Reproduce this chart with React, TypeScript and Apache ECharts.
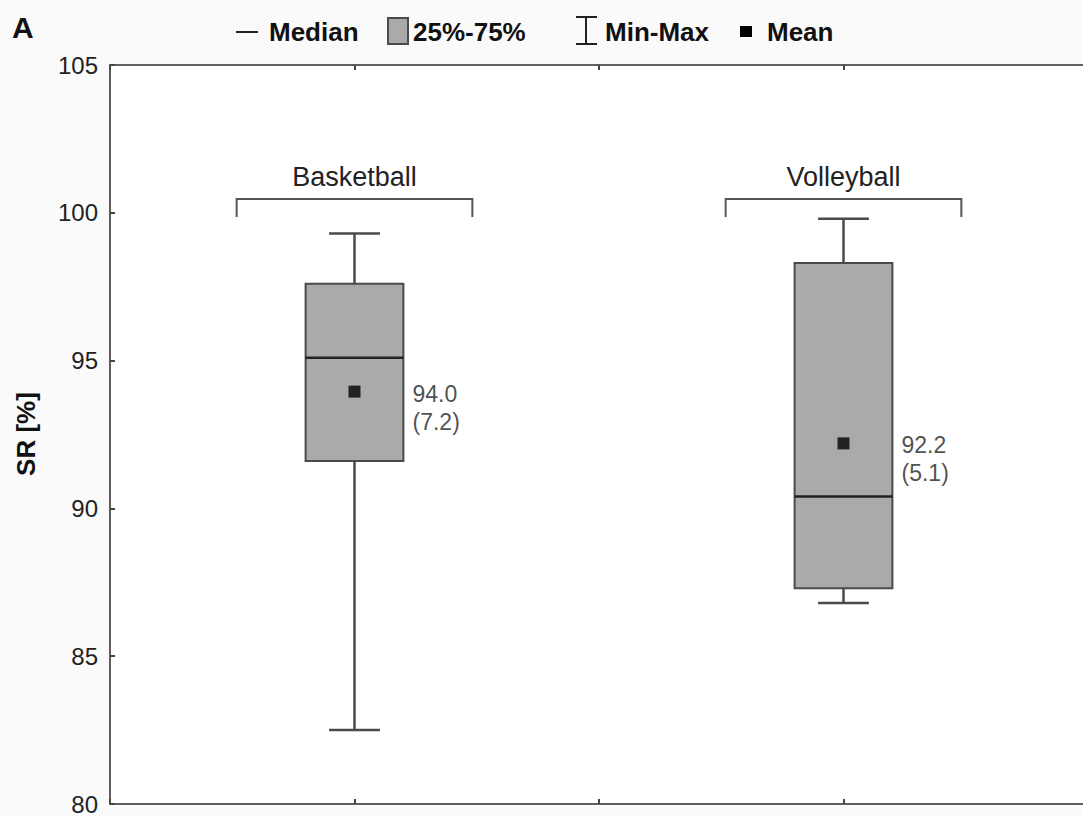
import React, { useEffect, useRef } from "react";
import * as echarts from "echarts";

const categories = ["Basketball", "Volleyball"];
const minValues = [82.5, 86.8];
const q1Values = [91.6, 87.3];
const medianValues = [95.1, 90.4];
const q3Values = [97.6, 98.3];
const maxValues = [99.3, 99.8];
const meanValues = [94.0, 92.2];
const sdValues = [7.2, 5.1];
const meanPlotValues = [93.95, 92.2];

const Y_MIN = 80;
const Y_MAX = 105;
const Y_INTERVAL = 5;

const FONT = "'Liberation Sans', Arial, Helvetica, sans-serif";
const LINE = "#4a4a4a";

export default function App() {
  const ref = useRef<HTMLDivElement>(null);

  useEffect(() => {
    if (!ref.current) return;
    const chart = echarts.init(ref.current, undefined, { renderer: "svg" });

    const boxData = categories.map((_, i) => [
      i,
      minValues[i],
      q1Values[i],
      medianValues[i],
      q3Values[i],
      maxValues[i],
    ]);

    const bracketData = categories.map((c, i) => ({ value: [i, 100], name: c }));

    const axisX = (position: "bottom" | "top") => ({
      type: "value",
      position,
      min: -0.5,
      max: 1.5,
      interval: 0.5,
      axisLine: { show: true, onZero: false, lineStyle: { color: "#606060", width: 2 } },
      axisTick: { show: true, inside: true, length: 5, lineStyle: { color: "#444", width: 2 } },
      axisLabel: { show: false },
      splitLine: { show: false },
    });

    const axisY = (position: "left" | "right", labels: boolean) => ({
      type: "value",
      position,
      min: Y_MIN,
      max: Y_MAX,
      interval: Y_INTERVAL,
      axisLine: { show: true, onZero: false, lineStyle: { color: "#606060", width: 2 } },
      axisTick: { show: true, inside: true, length: 5, lineStyle: { color: "#444", width: 2 } },
      axisLabel: {
        show: labels,
        fontFamily: FONT,
        fontSize: 24,
        color: "#222",
        margin: 12,
      },
      splitLine: { show: false },
    });

    const textStyle = (text: string, bold: boolean, size: number, align = "left") => ({
      text,
      fontFamily: FONT,
      fontSize: size,
      fontWeight: bold ? "bold" : "normal",
      fill: "#111",
      align,
      verticalAlign: "middle",
    });

    chart.setOption({
      animation: false,
      backgroundColor: "#fafafa",
      grid: {
        left: 110,
        top: 65,
        width: 978,
        height: 739,
        show: true,
        backgroundColor: "#ffffff",
        borderWidth: 0,
      },
      xAxis: [axisX("bottom"), axisX("top")],
      yAxis: [axisY("left", true), axisY("right", false)],
      graphic: [
        { type: "text", x: 12, y: 27, style: textStyle("A", true, 30) },
        {
          type: "text",
          x: 26,
          y: 434,
          rotation: Math.PI / 2,
          style: textStyle("SR [%]", true, 26, "center"),
        },
        // legend: median
        { type: "line", shape: { x1: 236, y1: 32, x2: 258, y2: 32 }, style: { stroke: "#222", lineWidth: 2 } },
        { type: "text", x: 269, y: 32, style: textStyle("Median", true, 26) },
        // legend: box
        {
          type: "rect",
          shape: { x: 388, y: 18, width: 20, height: 26 },
          style: { fill: "#aaaaaa", stroke: LINE, lineWidth: 2 },
        },
        { type: "text", x: 413, y: 32, style: textStyle("25%-75%", true, 26) },
        // legend: min-max
        { type: "line", shape: { x1: 586, y1: 17, x2: 586, y2: 44 }, style: { stroke: "#222", lineWidth: 2 } },
        { type: "line", shape: { x1: 576, y1: 17, x2: 597, y2: 17 }, style: { stroke: "#222", lineWidth: 2 } },
        { type: "line", shape: { x1: 576, y1: 44, x2: 597, y2: 44 }, style: { stroke: "#222", lineWidth: 2 } },
        { type: "text", x: 605, y: 32, style: textStyle("Min-Max", true, 26) },
        // legend: mean
        { type: "rect", shape: { x: 740, y: 26, width: 12, height: 11 }, style: { fill: "#000" } },
        { type: "text", x: 767, y: 32, style: textStyle("Mean", true, 26) },
      ],
      series: [
        {
          type: "custom",
          name: "Brackets",
          xAxisIndex: 0,
          yAxisIndex: 0,
          data: bracketData,
          encode: { x: 0, y: 1 },
          silent: true,
          renderItem: (params: any, api: any) => {
            const x = api.value(0);
            const unit = api.size([1, 0])[0];
            const half = unit * 0.241;
            const [cx, yTop] = api.coord([x, 100.47]);
            const yLeg = api.coord([x, 99.86])[1];
            const yText = api.coord([x, 101.2])[1];
            return {
              type: "group",
              children: [
                {
                  type: "polyline",
                  shape: {
                    points: [
                      [cx - half, yLeg],
                      [cx - half, yTop],
                      [cx + half, yTop],
                      [cx + half, yLeg],
                    ],
                  },
                  style: { stroke: "#555", lineWidth: 2, fill: "none" },
                },
                {
                  type: "text",
                  x: cx,
                  y: yText,
                  style: {
                    text: categories[params.dataIndex],
                    fontFamily: FONT,
                    fontSize: 27,
                    fill: "#222",
                    align: "center",
                    verticalAlign: "middle",
                  },
                },
              ],
            };
          },
        },
        {
          type: "custom",
          name: "Box",
          xAxisIndex: 0,
          yAxisIndex: 0,
          data: boxData,
          encode: { x: 0, y: [1, 2, 3, 4, 5] },
          renderItem: (params: any, api: any) => {
            const x = api.value(0);
            const unit = api.size([1, 0])[0];
            const boxHalf = unit * 0.1;
            const capHalf = unit * 0.052;
            const [cx, yMin] = api.coord([x, api.value(1)]);
            const yQ1 = api.coord([x, api.value(2)])[1];
            const yMed = api.coord([x, api.value(3)])[1];
            const yQ3 = api.coord([x, api.value(4)])[1];
            const yMax = api.coord([x, api.value(5)])[1];
            const ls = { stroke: LINE, lineWidth: 2.5 };
            return {
              type: "group",
              children: [
                { type: "line", shape: { x1: cx, y1: yMax, x2: cx, y2: yQ3 }, style: ls },
                { type: "line", shape: { x1: cx, y1: yQ1, x2: cx, y2: yMin }, style: ls },
                { type: "line", shape: { x1: cx - capHalf, y1: yMax, x2: cx + capHalf, y2: yMax }, style: ls },
                { type: "line", shape: { x1: cx - capHalf, y1: yMin, x2: cx + capHalf, y2: yMin }, style: ls },
                {
                  type: "rect",
                  shape: { x: cx - boxHalf, y: yQ3, width: boxHalf * 2, height: yQ1 - yQ3 },
                  style: { fill: "#aaaaaa", stroke: LINE, lineWidth: 2 },
                },
                {
                  type: "line",
                  shape: { x1: cx - boxHalf, y1: yMed, x2: cx + boxHalf, y2: yMed },
                  style: { stroke: "#222", lineWidth: 2.5 },
                },
              ],
            };
          },
        },
        {
          type: "scatter",
          name: "Mean",
          xAxisIndex: 0,
          yAxisIndex: 0,
          symbol: "rect",
          symbolSize: 12,
          itemStyle: { color: "#000" },
          data: meanPlotValues.map((m, i) => [i, m]),
          label: {
            show: true,
            position: "right",
            distance: 52,
            offset: [0, 16],
            align: "left",
            fontFamily: FONT,
            fontSize: 23,
            lineHeight: 28,
            color: "#222",
            formatter: (p: any) =>
              `${meanValues[p.dataIndex].toFixed(1)}\n(${sdValues[p.dataIndex].toFixed(1)})`,
          },
        },
      ],
    });

    return () => chart.dispose();
  }, []);

  return (
    <div
      style={{
        position: "fixed",
        left: 0,
        top: 0,
        width: 1083,
        height: 816,
        overflow: "hidden",
        background: "#fafafa",
      }}
    >
      <div ref={ref} style={{ width: 1100, height: 816 }} />
    </div>
  );
}
